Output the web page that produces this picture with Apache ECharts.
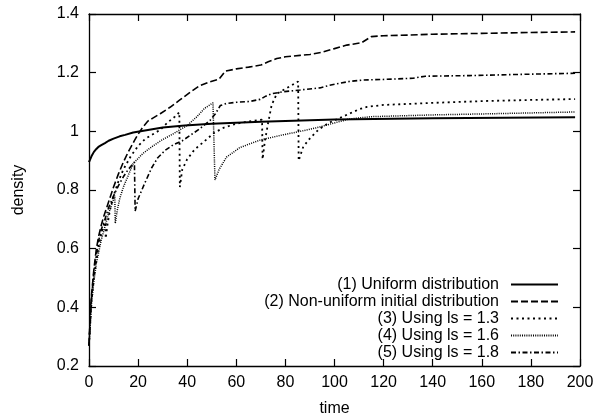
<!DOCTYPE html>
<html>
<head>
<meta charset="utf-8">
<script src="https://cdn.jsdelivr.net/npm/echarts@6/dist/echarts.min.js"></script>
<style>
  html, body { margin: 0; padding: 0; background: #fff; }
  #chart { width: 614px; height: 417px; }
</style>
</head>
<body>
<div id="chart"></div>
<script>
// Axis ranges and tick steps
const timeTicks = { min: 0, max: 200, step: 20 };
const densityTicks = { min: 0.2, max: 1.4, step: 0.2 };

// Legend labels
const seriesNames = [
  '(1) Uniform distribution',
  '(2) Non-uniform initial distribution',
  '(3) Using ls = 1.3',
  '(4) Using ls = 1.6',
  '(5) Using ls = 1.8'
];

// [time, density] samples for each run
const uniform = [
  [0,0.895],[1,0.915],[2,0.93],[3,0.94],[4,0.948],[5,0.953],[6.5,0.96],[8,0.968],[10,0.975],
  [12.5,0.983],[14.7,0.988],[18,0.996],[22.8,1.003],[30,1.013],[39,1.02],[50,1.026],
  [70,1.033],[100,1.04],[140,1.045],[198,1.048]
];

const nonUniform = [
  [0,0.27],[0.5,0.38],[1,0.44],[2,0.53],[3,0.6],[4,0.645],[5,0.68],[6,0.71],[8,0.76],
  [10,0.81],[12,0.855],[14,0.895],[16,0.93],[18.6,0.97],[20,0.99],[22,1.015],[24,1.035],
  [26,1.045],[29,1.06],[33,1.082],[37,1.107],[41,1.132],[45,1.155],[49,1.168],[53,1.178],
  [55.5,1.205],[60,1.213],[65,1.219],[70,1.226],[73,1.237],[76.5,1.248],[80,1.254],
  [86,1.259],[90,1.262],[95,1.27],[100,1.282],[105,1.294],[111,1.302],[115,1.323],
  [120,1.326],[130,1.328],[140,1.331],[160,1.334],[180,1.337],[198,1.339]
];

const ls13 = [
  [0,0.27],[1,0.42],[2,0.5],[3,0.56],[4,0.61],[5,0.65],[6,0.68],[6.7,0.70],[6.8,0.635],
  [7.5,0.68],[8.5,0.73],[10,0.78],[12,0.83],[14,0.87],[17,0.915],[20,0.95],[23,0.975],
  [26,0.99],[29,1.005],[32,1.03],[35,1.05],[36.8,1.065],[37,0.81],[38,0.87],[40,0.905],
  [43,0.938],[47,0.966],[51,0.995],[55,1.013],[60,1.026],[65,1.034],[70.5,1.04],
  [70.7,0.905],[71.7,0.97],[73,1.03],[74.4,1.09],[76.5,1.128],[79,1.14],[82.6,1.157],
  [85.2,1.17],[85.4,0.9],[87.3,0.948],[90,0.976],[93.4,1.005],[97.5,1.028],[102,1.045],
  [106,1.06],[110,1.075],[113,1.083],[120,1.09],[140,1.097],[160,1.103],[180,1.107],[198,1.11]
];

const ls16 = [
  [0,0.27],[1,0.41],[2,0.49],[3,0.55],[4,0.59],[5,0.63],[6,0.66],[7,0.69],[8,0.72],
  [9,0.745],[10.5,0.78],[10.7,0.686],[11.5,0.73],[12.5,0.77],[14,0.81],[16,0.85],
  [18,0.89],[22,0.925],[26,0.95],[30,0.972],[34,0.99],[40,1.02],[44,1.05],[47,1.078],
  [50.5,1.097],[51.3,0.834],[53,0.87],[56,0.912],[61.5,0.945],[69.7,0.97],[79,0.988],
  [86,1.0],[92.7,1.012],[101,1.031],[106,1.042],[115,1.05],[140,1.056],[170,1.061],[198,1.066]
];

const ls18 = [
  [0,0.27],[1,0.43],[2,0.52],[3,0.58],[4,0.63],[5,0.665],[6.5,0.7],[8,0.74],[10,0.78],
  [12,0.815],[14,0.845],[16,0.87],[18.5,0.895],[18.8,0.728],[20,0.77],[22.8,0.825],
  [25.5,0.875],[28,0.91],[31,0.935],[34.5,0.955],[38,0.968],[41,0.985],[45,1.008],
  [49.3,1.037],[51.5,1.06],[53.5,1.088],[56,1.095],[60,1.099],[65.6,1.102],[69.7,1.109],
  [72,1.12],[74.4,1.128],[79,1.135],[86,1.141],[94,1.148],[98,1.157],[101,1.162],
  [106,1.17],[111.7,1.175],[120,1.177],[132,1.181],[137,1.188],[155,1.19],[175,1.194],[198,1.198]
];

const seriesData = [uniform, nonUniform, ls13, ls16, ls18];
const dashStyles = ['solid', [7, 3], [2, 3.5], [1, 1.2], [5, 2.5, 1.5, 2.5]];
const lineWidths = [2, 1.6, 1.8, 1.5, 1.6];

const FONT = '"Liberation Sans", Arial, Helvetica, sans-serif';
const black = '#000';

function frameAxis(extra) {
  return Object.assign({
    type: 'value',
    axisLine: { show: true, onZero: false, lineStyle: { color: black, width: 1.3 } },
    axisTick: { show: true, inside: true, length: 7, lineStyle: { color: black, width: 1.2 } },
    splitLine: { show: false },
    axisLabel: { show: false }
  }, extra);
}

const chart = echarts.init(document.getElementById('chart'), null, { renderer: 'canvas' });

chart.setOption({
  backgroundColor: '#fff',
  animation: false,
  color: [black, black, black, black, black],
  textStyle: { fontFamily: FONT, color: black },
  grid: { left: 89, right: 34, top: 14, bottom: 51, containLabel: false, outerBoundsMode: 'none' },
  xAxis: [
    frameAxis({
      position: 'bottom',
      min: timeTicks.min, max: timeTicks.max, interval: timeTicks.step,
      name: 'time', nameLocation: 'middle', nameGap: 35,
      nameTextStyle: { fontFamily: FONT, fontSize: 16, color: black },
      axisLabel: { show: true, margin: 9, fontFamily: FONT, fontSize: 16, color: black }
    }),
    frameAxis({
      position: 'top',
      min: timeTicks.min, max: timeTicks.max, interval: timeTicks.step
    })
  ],
  yAxis: [
    frameAxis({
      position: 'left',
      min: densityTicks.min, max: densityTicks.max, interval: densityTicks.step,
      name: 'density', nameLocation: 'middle', nameGap: 62, nameRotate: 90,
      nameTextStyle: { fontFamily: FONT, fontSize: 16, color: black },
      axisLabel: {
        show: true, margin: 10, fontFamily: FONT, fontSize: 16, color: black,
        formatter: v => String(Math.round(v * 10) / 10)
      }
    }),
    frameAxis({
      position: 'right',
      min: densityTicks.min, max: densityTicks.max, interval: densityTicks.step
    })
  ],
  legend: {
    orient: 'vertical',
    align: 'right',
    right: 55,
    top: 276,
    padding: 0,
    itemGap: 0,
    itemWidth: 47,
    itemHeight: 14,
    selectedMode: false,
    // keep only the line sample in each key, no marker dot
    itemStyle: { color: 'rgba(0,0,0,0)', borderWidth: 0, opacity: 0 },
    textStyle: { fontFamily: FONT, fontSize: 16, color: black, lineHeight: 17, padding: [0, 7, 0, 0] },
    data: seriesNames
  },
  series: seriesData.map((d, i) => ({
    name: seriesNames[i],
    type: 'line',
    xAxisIndex: 0,
    yAxisIndex: 0,
    data: d,
    symbol: 'none',
    smooth: false,
    clip: true,
    itemStyle: { color: black },
    lineStyle: { color: black, width: lineWidths[i], type: dashStyles[i] }
  }))
});
</script>
</body>
</html>
